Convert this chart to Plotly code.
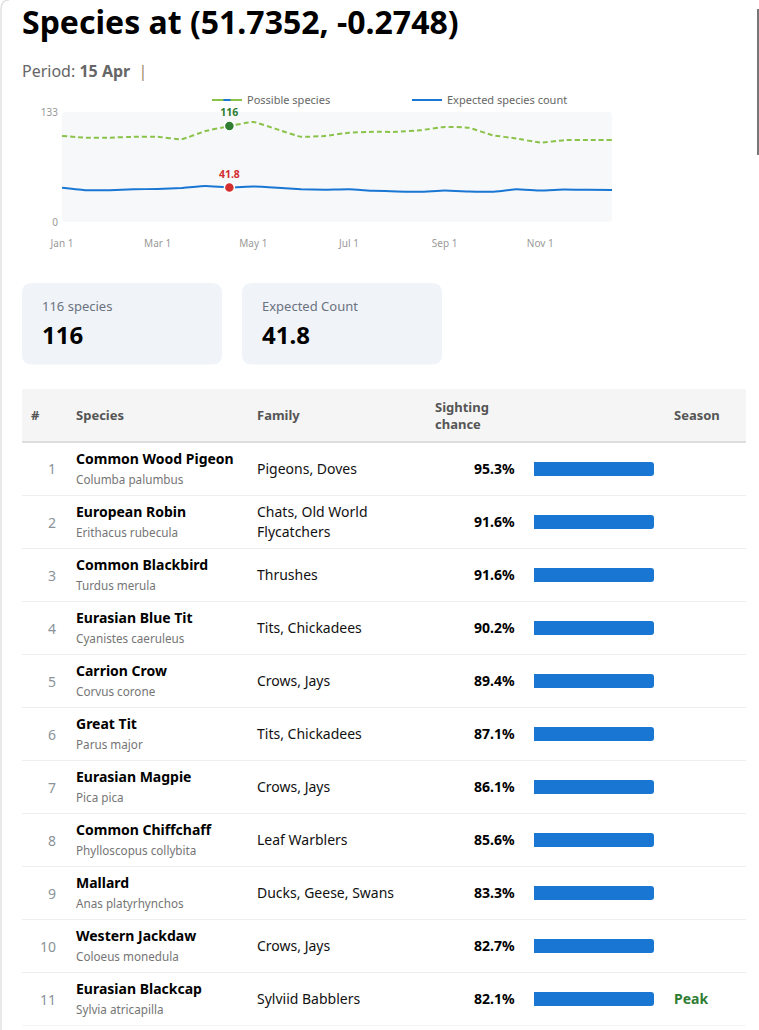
import plotly.graph_objects as go

W, H = 759, 1030
FONT = "Noto Sans"

# chart data
periods = ["Jan 1","Jan 15","Feb 1","Feb 15","Mar 1","Mar 15","Apr 1","Apr 15","May 1","May 15","Jun 1","Jun 15",
           "Jul 1","Jul 15","Aug 1","Aug 15","Sep 1","Sep 15","Oct 1","Oct 15","Nov 1","Nov 15","Dec 1","Dec 15"]
possible = [104,102,102,103,103,100,110,116,121,112,103,104,108,109,109,111,115,114,105,101,96,99,99,99]
expected = [41.5,38.5,38.5,39.5,40,41,43.5,41.8,43,41.5,39.5,39,39.5,37.8,37,36.5,38,37,36.5,39.5,38,39.2,39,38.8]
x_ticks = ["Jan 1","Mar 1","May 1","Jul 1","Sep 1","Nov 1"]
y_ticks = [0, 133]
current_period = ["Apr 15"]
current_possible = [116]
current_expected = [41.8]

# table data
ranks = [1,2,3,4,5,6,7,8,9,10,11]
species = ["Common Wood Pigeon","European Robin","Common Blackbird","Eurasian Blue Tit","Carrion Crow","Great Tit",
           "Eurasian Magpie","Common Chiffchaff","Mallard","Western Jackdaw","Eurasian Blackcap"]
scientific = ["Columba palumbus","Erithacus rubecula","Turdus merula","Cyanistes caeruleus","Corvus corone","Parus major",
              "Pica pica","Phylloscopus collybita","Anas platyrhynchos","Coloeus monedula","Sylvia atricapilla"]
families = ["Pigeons, Doves","Chats, Old World\nFlycatchers","Thrushes","Tits, Chickadees","Crows, Jays","Tits, Chickadees",
            "Crows, Jays","Leaf Warblers","Ducks, Geese, Swans","Crows, Jays","Sylviid Babblers"]
chance = [95.3,91.6,91.6,90.2,89.4,87.1,86.1,85.6,83.3,82.7,82.1]
bar_fill = [100,100,100,100,100,100,100,100,100,100,100]
season = ["","","","","","","","","","","Peak"]
headers = ["#","Species","Family","Sighting<br>chance","Season"]
header_y = [414.7,414.7,414.7,415.5,414.7]

BLUE, GREEN, DGREEN, RED = "#1976d2", "#8bc34a", "#2e7d32", "#d32f2f"

def px(x): return x / W
def py(y): return 1 - y / H

def rrect(x0, y0, x1, y1, r):
    X0, X1, Y0, Y1 = px(x0), px(x1), py(y0), py(y1)
    rx, ry = r / W, r / H
    return (f"M{X0+rx},{Y0} L{X1-rx},{Y0} Q{X1},{Y0} {X1},{Y0-ry} L{X1},{Y1+ry} Q{X1},{Y1} {X1-rx},{Y1} "
            f"L{X0+rx},{Y1} Q{X0},{Y1} {X0},{Y1+ry} L{X0},{Y0-ry} Q{X0},{Y0} {X0+rx},{Y0} Z")

shapes = []
def fill_shape(path, color):
    shapes.append(dict(type="path", xref="paper", yref="paper", path=path, fillcolor=color, line_width=0, layer="below"))

fill_shape(rrect(62, 112, 612, 222, 4), "#f6f8fa")
fill_shape(rrect(22, 283, 222, 364.5, 10), "#f0f3f8")
fill_shape(rrect(242, 283, 442, 364.5, 10), "#f0f3f8")
fill_shape(rrect(22, 389, 746, 441, 0.01), "#f5f5f5")
fill_shape(rrect(757, 9, 759, 155, 0.01), "#777777")
shapes.append(dict(type="path", xref="paper", yref="paper",
                   path=f"M{px(1)},{py(1030)} L{px(1)},{py(10)} Q{px(1)},{py(0)} {px(9)},{py(0)}",
                   line=dict(color="#e2e2e2", width=1.5), layer="below"))
shapes.append(dict(type="line", xref="paper", yref="paper", x0=px(22), x1=px(746), y0=py(442), y1=py(442),
                   line=dict(color="#dddddd", width=2), layer="below"))
for r in ranks:
    shapes.append(dict(type="line", xref="paper", yref="y2", x0=px(22), x1=px(746), y0=r + 0.5, y1=r + 0.5,
                       line=dict(color="#eeeeee", width=1), layer="below"))

ann = []
def text(x, y, s, size, color, anchor="left", bold=False, weight=None, yref="paper", yshift=0):
    ann.append(dict(x=px(x), xref="paper", y=py(y) if yref == "paper" else y, yref=yref, text=s, showarrow=False,
                    xanchor=anchor, yanchor="middle", yshift=yshift, borderpad=0, borderwidth=0, align="left",
                    font=dict(family=FONT, size=size, color=color, weight=weight or ("bold" if bold else "normal"))))

text(22, 21, "Species at (51.7352, -0.2748)", 32, "#000000", bold=True)
text(22, 71, "Period: <b>15 Apr</b>  <span style='color:#9a8a6a'>|</span>", 16, "#666666")
text(42, 306, "116 species", 13, "#6b7280")
text(42, 334, str(current_possible[0]), 24, "#000000", bold=True)
text(262, 306, "Expected Count", 13, "#6b7280")
text(262, 334, str(current_expected[0]), 24, "#000000", bold=True)
for x, yy, h in zip([31, 76, 257, 434.5, 674], header_y, headers):
    text(x, yy, h, 13, "#555555", bold=True)

for r, sp, sc, fam, ch, se in zip(ranks, species, scientific, families, chance, season):
    text(56, r, str(r), 14, "#8a939b", anchor="right", yref="y2")
    text(76, r, sp, 14, "#000000", bold=True, yref="y2", yshift=10.5)
    text(76, r, sc, 11.7, "#757575", yref="y2", yshift=-10)
    lines = fam.split("\n")
    for k, ln in enumerate(lines):
        text(257, r, ln, 14, "#111111", yref="y2", yshift=(len(lines) - 1) * 10 - 20 * k + 0.6)
    text(515, r, f"{ch}%", 14, "#000000", anchor="right", bold=True, yref="y2", yshift=0.6)
    if se:
        text(674, r, se, 14, DGREEN, bold=True, yref="y2", yshift=0.6)

fig = go.Figure()
dash = "5px,3px"
fig.add_trace(go.Scatter(x=[None], y=[None], name="Possible species", mode="lines+markers",
                         line=dict(color=GREEN, width=2, dash="solid"),
                         marker=dict(symbol="line-ew", size=5, color=BLUE, line=dict(color=BLUE, width=2))))
fig.add_trace(go.Scatter(x=periods, y=possible, mode="lines", showlegend=False, hoverinfo="skip",
                         line=dict(color=GREEN, width=2, dash=dash, shape="spline", smoothing=0.3)))
fig.add_trace(go.Scatter(x=periods, y=expected, mode="lines", name="Expected species count", hoverinfo="skip",
                         line=dict(color=BLUE, width=2, shape="spline", smoothing=0.3)))
fig.add_trace(go.Scatter(x=current_period, y=current_possible, mode="markers+text", showlegend=False,
                         text=[str(v) for v in current_possible], textposition="top center",
                         textfont=dict(family=FONT, size=10.5, color=DGREEN, weight="bold"),
                         marker=dict(size=10, color=DGREEN, line=dict(color="#ffffff", width=1.5)), cliponaxis=False))
fig.add_trace(go.Scatter(x=current_period, y=current_expected, mode="markers+text", showlegend=False,
                         text=[str(v) for v in current_expected], textposition="top center",
                         textfont=dict(family=FONT, size=10.5, color=RED, weight="bold"),
                         marker=dict(size=10, color=RED, line=dict(color="#ffffff", width=1.5)), cliponaxis=False))
fig.add_trace(go.Bar(x=bar_fill, y=ranks, orientation="h", width=0.264, marker=dict(color=BLUE, line_width=0),
                     xaxis="x2", yaxis="y2", showlegend=False, hoverinfo="skip"))

fig.update_layout(
    width=W, height=H, margin=dict(l=0, r=0, t=0, b=0, pad=0, autoexpand=False),
    paper_bgcolor="#ffffff", plot_bgcolor="rgba(0,0,0,0)", font=dict(family=FONT),
    barcornerradius=3, shapes=shapes, annotations=ann,
    legend=dict(orientation="h", x=px(207), y=py(100), xanchor="left", yanchor="middle",
                entrywidth=155, entrywidthmode="pixels", bgcolor="rgba(0,0,0,0)",
                font=dict(family=FONT, size=11, color="#666666")),
    xaxis=dict(domain=[px(62), px(612)], type="category", categoryorder="array", categoryarray=periods,
               range=[0, 23], tickmode="array", tickvals=x_ticks, ticktext=x_ticks, showgrid=False, zeroline=False,
               showline=False, ticks="", ticklabelstandoff=14, tickfont=dict(family=FONT, size=10, color="#999999"),
               anchor="y"),
    yaxis=dict(domain=[py(222), py(112)], range=[0, 133], tickmode="array", tickvals=y_ticks, showgrid=False,
               zeroline=False, showline=False, ticks="", ticklabelstandoff=3,
               tickfont=dict(family=FONT, size=10, color="#999999"), anchor="x"),
    xaxis2=dict(domain=[px(534), px(654)], range=[0, 100], visible=False, anchor="y2", fixedrange=True),
    yaxis2=dict(domain=[py(1025.5), py(442.5)], range=[11.5, 0.5], visible=False, anchor="x2", fixedrange=True),
)

fig.write_html("out.html", config=dict(displayModeBar=False),
               post_script="document.body.style.margin='0';document.body.style.overflow='hidden';")
